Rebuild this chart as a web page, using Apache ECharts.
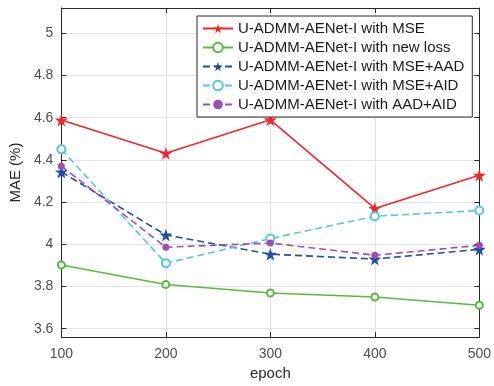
<!DOCTYPE html>
<html><head><meta charset="utf-8">
<script src="https://cdn.jsdelivr.net/npm/echarts@6/dist/echarts.min.js"></script>
<style>html,body{margin:0;padding:0;background:#fff}#c{width:494px;height:386px}</style>
</head><body><div id="c"></div>
<script>
const epochs = [100, 200, 300, 400, 500];
const mse = [4.589, 4.431, 4.59, 4.17, 4.327];
const newLoss = [3.902, 3.809, 3.769, 3.75, 3.711];
const mseAad = [4.343, 4.044, 3.953, 3.93, 3.976];
const mseAid = [4.45, 3.91, 4.027, 4.133, 4.16];
const aadAid = [4.37, 3.986, 4.006, 3.948, 3.995];
const yTicks = [3.6, 3.8, 4.0, 4.2, 4.4, 4.6, 4.8, 5.0];
const names = ['U-ADMM-AENet-I with MSE','U-ADMM-AENet-I with new loss','U-ADMM-AENet-I with MSE+AAD','U-ADMM-AENet-I with MSE+AID','U-ADMM-AENet-I with AAD+AID'];
const star = 'path://M50,0 L61,35 L98,35 L68,57 L79,91 L50,70 L21,91 L32,57 L2,35 L39,35 Z';
const FONT = '"Liberation Sans", Arial, sans-serif';
const AX = '#262626';
function pts(arr){ return epochs.map((e,i)=>[e, arr[i]]); }
function ser(name, arr, color, dashed, symbol, size){
  return {name, type:'line', data: pts(arr), xAxisIndex:0, yAxisIndex:0,
    symbol, symbolSize:size, showAllSymbol:true,
    lineStyle:{color, width:1.6, type: dashed ? [7,4] : 'solid'},
    itemStyle: symbol==='emptyCircle' ? {color, borderColor:color, borderWidth:1.5} : {color},
    emphasis:{disabled:true}, z: 3};
}
const s = [
  ser(names[0], mse, '#f2262a', false, star, 13),
  ser(names[1], newLoss, '#5bb83f', false, 'emptyCircle', 7),
  ser(names[2], mseAad, '#1f4ea3', true, star, 13),
  ser(names[3], mseAid, '#55c6dc', true, 'emptyCircle', 8),
  ser(names[4], aadAid, '#9e4fae', true, 'circle', 7)
];
const chart = echarts.init(document.getElementById('c'), null, {renderer:'canvas'});
chart.setOption({
  animation:false,
  backgroundColor:'#fff',
  textStyle:{fontFamily:FONT},
  grid: {left:61, right:14, top:8, bottom:47},
  legend:{
    data:names, orient:'vertical', left:197, top:16,
    backgroundColor:'#fff', borderColor:'#262626', borderWidth:1,
    padding:[4,8,4,5], itemGap:2, itemWidth:30, itemHeight:12,
    textStyle:{fontFamily:FONT, fontSize:15, color:'#1a1a1a', lineHeight:17},
    selectedMode:false
  },
  xAxis:[{
    type:'value', min:100, max:500, interval:100, position:'bottom',
    name:'epoch', nameLocation:'middle', nameGap:28,
    nameTextStyle:{fontFamily:FONT, fontSize:15, color:AX},
    axisLine:{show:true, onZero:false, lineStyle:{color:AX, width:1}},
    axisTick:{show:true, inside:true, length:5, lineStyle:{color:AX}},
    axisLabel:{fontFamily:FONT, fontSize:14, color:'#4d4d4d', margin:10},
    splitLine:{show:true, lineStyle:{color:'#e3e3e3', width:1}}
  },{
    type:'value', min:100, max:500, interval:100, position:'top',
    axisLine:{show:true, onZero:false, lineStyle:{color:AX, width:1}},
    axisTick:{show:true, inside:true, length:5, lineStyle:{color:AX}},
    axisLabel:{show:false}, splitLine:{show:false}
  }],
  yAxis:[{
    type:'value', min:3.56, max:5.12, position:'left',
    name:'MAE (%)', nameLocation:'middle', nameGap:24,
    nameTextStyle:{fontFamily:FONT, fontSize:15, color:AX},
    axisLine:{show:true, onZero:false, lineStyle:{color:AX, width:1}},
    axisTick:{show:true, inside:true, length:5, lineStyle:{color:AX}, customValues:yTicks},
    axisLabel:{fontFamily:FONT, fontSize:14, color:'#4d4d4d', margin:8, customValues:yTicks,
      formatter:v=> (Math.abs(v-4)<1e-9||Math.abs(v-5)<1e-9) ? String(Math.round(v)) : v.toFixed(1)},
    splitLine:{show:true, lineStyle:{color:'#e3e3e3', width:1}}
  },{
    type:'value', min:3.56, max:5.12, position:'right',
    axisLine:{show:true, onZero:false, lineStyle:{color:AX, width:1}},
    axisTick:{show:true, inside:true, length:5, lineStyle:{color:AX}, customValues:yTicks},
    axisLabel:{show:false, customValues:yTicks}, splitLine:{show:false}
  }],
  series: s
});
</script></body></html>
